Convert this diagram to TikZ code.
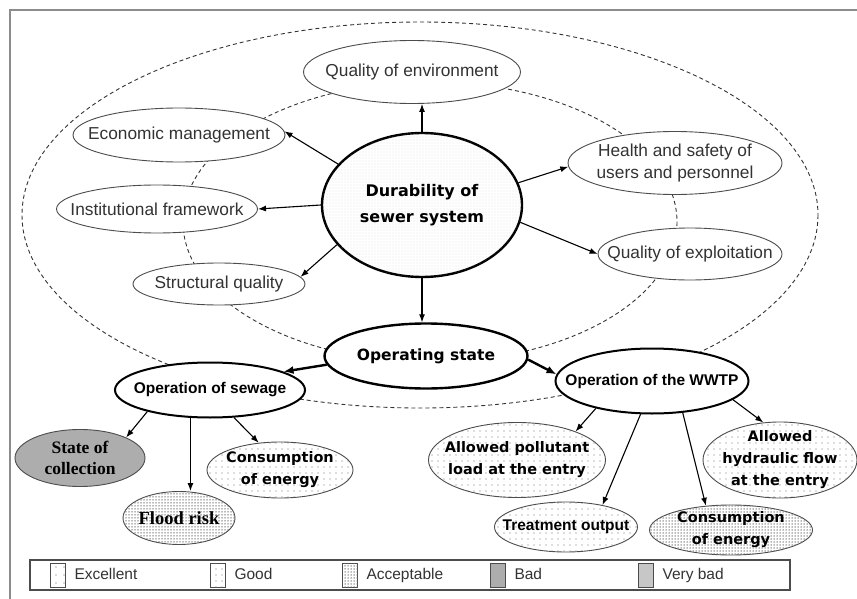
\documentclass[tikz,border=0pt]{standalone}
\usepackage{fontspec}
\setmainfont{Liberation Sans}
\newfontfamily\djv{DejaVu Sans}
\newfontfamily\tms{Liberation Serif}
\usepackage{tikz}
\usetikzlibrary{shapes.geometric,arrows.meta,patterns.meta}

\tikzset{
  oval/.style={ellipse, draw=black!70, line width=0.9pt, fill=white, inner sep=0pt},
  hub/.style={ellipse, draw=black, line width=2.4pt, fill=white, inner sep=0pt},
  excellent/.style={postaction={pattern={Dots[distance=8pt,radius=0.7pt]}, pattern color=black!60}},
  good/.style={postaction={pattern={Dots[distance=6pt,radius=0.65pt]}, pattern color=black!55}},
  acceptable/.style={postaction={pattern={Dots[distance=3pt,radius=0.75pt]}, pattern color=black!55}},
  bad/.style={fill=black!32},
  verybad/.style={fill=black!22},
  finedots/.style={postaction={pattern={Dots[distance=3pt,radius=0.45pt]}, pattern color=black!28}},
  arr/.style={-{Latex[length=8pt,width=6pt]}, line width=1.1pt},
  bigarr/.style={-{Latex[length=10pt,width=8pt]}, line width=2.4pt},
  lbl/.style={align=center, text=black!80, font=\fontsize{17.3}{22}\selectfont},
  hubtxt/.style={align=center, font=\djv\bfseries\fontsize{16}{26}\selectfont},
  optxt/.style={align=center, font=\bfseries\fontsize{15.5}{18}\selectfont},
  leaftxt/.style={align=center, font=\djv\bfseries\fontsize{14.5}{22}\selectfont},
  serftxt/.style={align=center, font=\tms\bfseries\fontsize{17.5}{21}\selectfont},
  swatch/.style={draw=black!70, line width=1pt, minimum width=15pt, minimum height=24pt, inner sep=0pt, fill=white}
}

\begin{document}
\begin{tikzpicture}[x=1pt, y=-1pt]
  \useasboundingbox (0,0) rectangle (857,599);
  \draw[black!45, line width=2pt] (10,599) -- (10,10) -- (857,10);
  \draw[dash pattern=on 4pt off 3pt, line width=0.9pt, black!80] (420,215) ellipse (398 and 193);
  \draw[dash pattern=on 4pt off 3pt, line width=0.9pt, black!80] (430,222) ellipse (247 and 140);

  \node[oval, minimum width=217, minimum height=63, label={[lbl]center:Quality of environment}] (qoe) at (412,72) {};
  \node[oval, minimum width=212, minimum height=54, label={[lbl]center:Economic management}] (econ) at (179,135) {};
  \node[oval, minimum width=201, minimum height=48, label={[lbl]center:Institutional framework}] (inst) at (157,209) {};
  \node[oval, minimum width=172, minimum height=42, label={[lbl]center:Structural quality}] (struc) at (219,284) {};
  \node[oval, minimum width=214, minimum height=63, label={[lbl]center:Health and safety of\\users and personnel}] (health) at (675,163) {};
  \node[oval, minimum width=184, minimum height=52, label={[lbl]center:Quality of exploitation}] (qox) at (690,254) {};
  \node[hub, finedots, minimum width=200, minimum height=144, label={[hubtxt]center:Durability of\\sewer system}] (dur) at (422,205) {};
  \node[hub, minimum width=203, minimum height=65, label={[hubtxt, font=\djv\bfseries\fontsize{15.5}{18}\selectfont]center:Operating state}] (opst) at (426,356) {};
  \node[hub, line width=2pt, minimum width=190, minimum height=55, label={[optxt]center:Operation of sewage}] (sew) at (210,390) {};
  \node[hub, line width=2pt, minimum width=193, minimum height=65, label={[optxt]center:Operation of the WWTP}] (wwtp) at (652,381) {};

  \node[oval, bad, minimum width=130, minimum height=57, label={[serftxt]center:State of\\collection}] (coll) at (80,458) {};
  \node[oval, acceptable, minimum width=112, minimum height=53, label={[serftxt, font=\tms\bfseries\fontsize{18.5}{21}\selectfont]center:Flood risk}] (flood) at (179,518) {};
  \node[oval, good, minimum width=146, minimum height=56, label={[leaftxt]center:Consumption\\of energy}] (ensew) at (280,470) {};
  \node[oval, good, minimum width=177, minimum height=75, label={[leaftxt]center:Allowed pollutant\\load at the entry}] (poll) at (517,460) {};
  \node[oval, good, minimum width=143, minimum height=50, label={[optxt]center:Treatment output}] (treat) at (566,527) {};
  \node[oval, acceptable, minimum width=163, minimum height=50, label={[leaftxt]center:Consumption\\of energy}] (enwwtp) at (731,530) {};
  \node[oval, good, minimum width=154, minimum height=76, label={[leaftxt]center:Allowed\\hydraulic flow\\at the entry}] (hydr) at (780,460) {};

  \draw[arr] (dur.north) -- (dur.north |- qoe.south);
  \draw[arr] (dur.154) -- (econ.2);
  \draw[arr] (dur.west) -- (inst.east);
  \draw[arr] (dur.205) -- (struc.5);
  \draw[arr] (dur.13) -- (health.182);
  \draw[arr] (dur.-10) -- (qox.west);
  \draw[arr] (dur.south) -- (dur.south |- opst.north);
  \draw[bigarr] (opst.185) -- (sew.14);
  \draw[bigarr] (opst.-2) -- (wwtp.176);
  \draw[arr] (sew.199) -- (coll.24);
  \draw[arr] (sew.235) -- (sew.235 |- flood.north);
  \draw[arr] (sew.-49) -- (ensew.128);
  \draw[arr] (wwtp.206) -- (poll.26);
  \draw[arr] (wwtp.251) -- (treat.31);
  \draw[arr] (wwtp.-46) -- (enwwtp.136);
  \draw[arr] (wwtp.-13) -- (hydr.114);

  \draw[black!70, line width=1.5pt] (30,560) rectangle (790,590);
  \foreach \x/\sty/\txt in {50/excellent/Excellent, 210/good/Good, 342/acceptable/Acceptable, 490/bad/Bad, 638/verybad/Very bad}
    \node[swatch, \sty, label={[lbl, font=\fontsize{15.5}{18}\selectfont, anchor=west, xshift=5pt, text height=11pt, text depth=3pt]east:\txt}] (key-\x) at (\x+8,575) {};
\end{tikzpicture}
\end{document}
